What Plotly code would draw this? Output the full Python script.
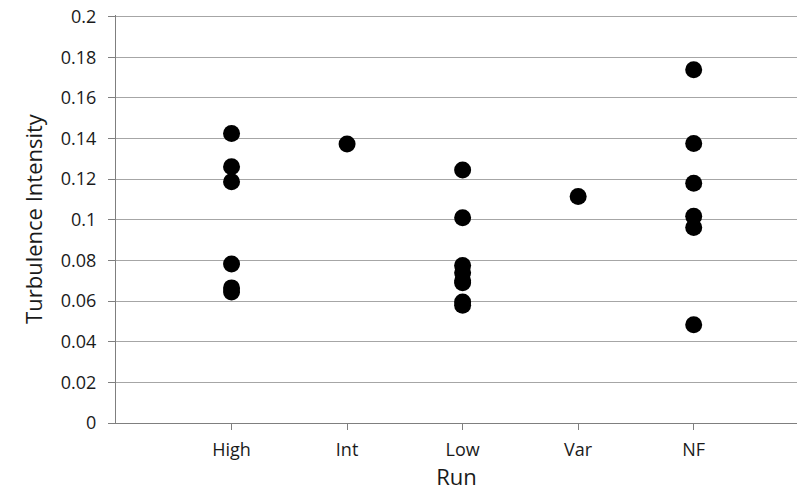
import plotly.graph_objects as go

categories = ["High", "Int", "Low", "Var", "NF"]
high_vals = [0.1425, 0.1261, 0.1187, 0.0783, 0.0665, 0.0645]
int_vals = [0.1373]
low_vals = [0.1245, 0.1010, 0.0775, 0.0740, 0.0700, 0.0690, 0.0595, 0.0580]
var_vals = [0.1115]
nf_vals = [0.1738, 0.1376, 0.1180, 0.1018, 0.0962, 0.0483]
y_ticks = [0, 0.02, 0.04, 0.06, 0.08, 0.1, 0.12, 0.14, 0.16, 0.18, 0.2]
y_tick_labels = ["0", "0.02", "0.04", "0.06", "0.08", "0.1", "0.12", "0.14", "0.16", "0.18", "0.2"]

series = [high_vals, int_vals, low_vals, var_vals, nf_vals]
xs, ys = [], []
for i, vals in enumerate(series):
    for v in vals:
        xs.append(i + 1)
        ys.append(v)

fig = go.Figure()
fig.add_trace(go.Scatter(
    x=xs, y=ys, mode="markers",
    marker=dict(color="black", size=17, line=dict(width=0)),
    showlegend=False,
))

font_family = "Open Sans, Noto Sans, sans-serif"
fig.update_layout(
    width=797, height=495,
    margin=dict(l=116, r=0, t=15, b=72),
    paper_bgcolor="white", plot_bgcolor="white",
    font=dict(family=font_family, color="#1a1a1a"),
    xaxis=dict(
        range=[0, 5.894],
        tickvals=[1, 2, 3, 4, 5], ticktext=categories,
        showgrid=False, zeroline=False,
        showline=True, linecolor="#7f7f7f", linewidth=1.3,
        ticks="outside", ticklen=6, tickcolor="#7f7f7f",
        tickfont=dict(size=18, color="#1a1a1a"),
        ticklabelstandoff=4,
        automargin=False,
        title=dict(text="Run", font=dict(size=22, color="#1a1a1a"), standoff=6),
    ),
    yaxis=dict(
        range=[0, 0.2008],
        tickvals=y_ticks, ticktext=y_tick_labels,
        showgrid=True, gridcolor="#a6a6a6", gridwidth=1.3,
        zeroline=False,
        showline=True, linecolor="#7f7f7f", linewidth=1.3,
        ticks="outside", ticklen=7, tickcolor="#7f7f7f",
        tickfont=dict(size=18, color="#1a1a1a"),
        ticklabelstandoff=8,
        ticklabeloverflow="allow",
        automargin=False,
        title=dict(text="Turbulence Intensity", font=dict(size=22, color="#1a1a1a"), standoff=11),
    ),
)

fig.write_html("out.html", config={"displayModeBar": False},
               post_script="document.body.style.margin='0';")
